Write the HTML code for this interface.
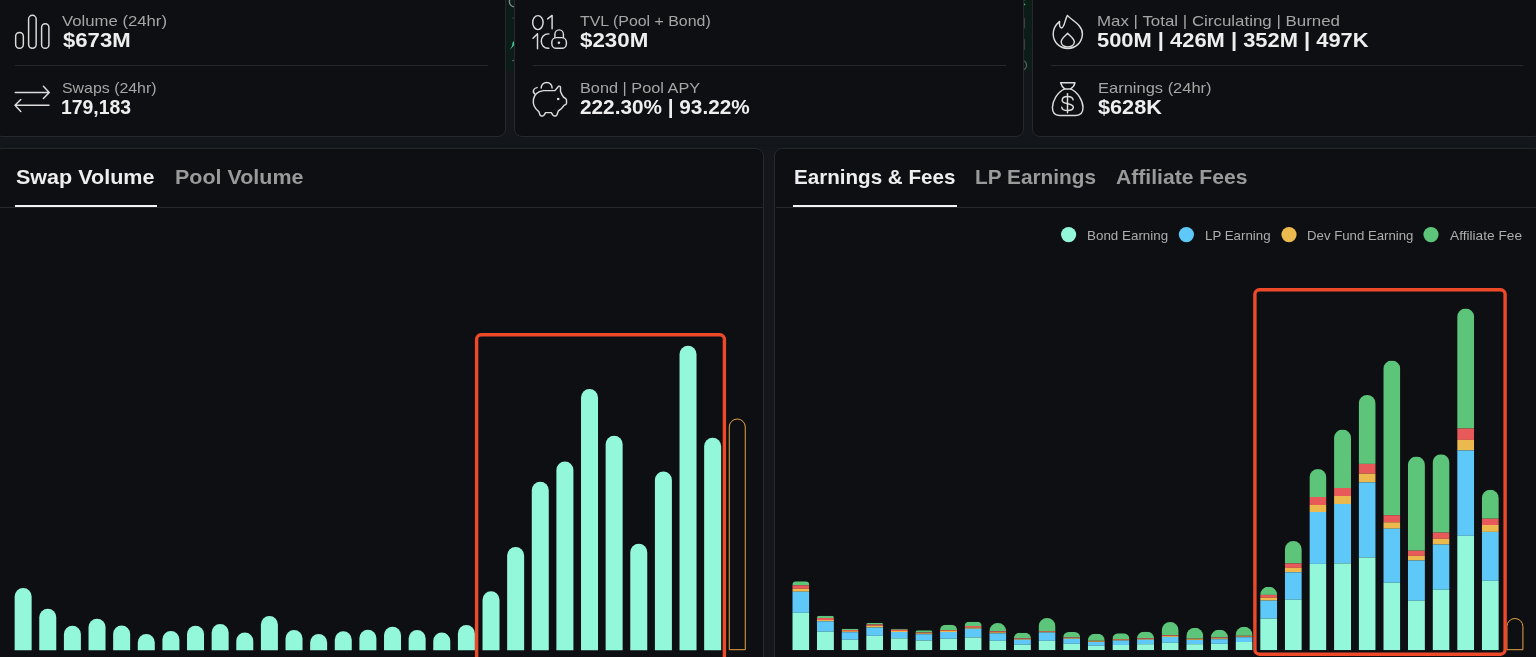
<!DOCTYPE html>
<html lang="en"><head><meta charset="utf-8"><title>Dashboard</title>
<style>
html,body{margin:0;padding:0}
body{width:1536px;height:657px;overflow:hidden;background:#13161a;position:relative;font-family:"Liberation Sans",sans-serif}
.strip{position:absolute;left:0;top:0;width:1536px;height:71px;background:#0c1c16}
.card{position:absolute;top:-20px;height:154.5px;background:#0e0f13;border:1px solid #25282d;border-radius:8px}
.div{position:absolute;height:1px;top:65px;background:#25282c}
.panel{position:absolute;top:148px;height:540px;background:#0e0f13;border:1px solid #25282d;border-radius:8px}
.tabline{position:absolute;top:207px;height:1px;background:#25282c}
.ul{position:absolute;top:204.6px;height:2.4px;background:#f2f2f2}
.t{position:absolute;white-space:nowrap;line-height:1;transform-origin:0 0}
.lab{font-size:14.5px;color:#a6a6a6}
.val{font-size:19.3px;font-weight:700;color:#eeeeee}
.tabA{font-size:20px;font-weight:700;color:#eeeeee}
.tab{font-size:20px;font-weight:700;color:#9a9a9a}
.leg{font-size:13px;color:#adadad}
svg{position:absolute;left:0;top:0}
</style></head><body>
<div class="strip"></div>
<svg width="1536" height="72" viewBox="0 0 1536 72">
<path d="M514.6 -3.5a5.2 5.2 0 0 0 0 10.4" fill="none" stroke="#8a8d90" stroke-width="1.3"/>
<path d="M509.8 49.8Q512.6 47.6 514.6 44.6V40.6L512.6 42.4Q513 46 509.8 49.8Z" fill="#4fc99a"/>
<rect x="512.4" y="17.6" width="2.2" height="1" fill="#4a4f52"/>
<rect x="512.2" y="60" width="2.4" height="1.2" fill="#5a5f62"/>
<rect x="1023.4" y="18" width="1.7" height="10.5" rx=".8" fill="#3b3e42"/>
<rect x="1023.4" y="39" width="1.7" height="11" rx=".8" fill="#3b3e42"/>
<circle cx="1021.6" cy="65.2" r="5" fill="none" stroke="#55585c" stroke-width="1.3"/>
<circle cx="1023.6" cy=".6" r=".8" fill="#3fae82"/>
<circle cx="1024.4" cy="4.4" r=".9" fill="#3fae82"/>
</svg>
<div class="card" style="left:-6px;width:510px"></div>
<div class="card" style="left:514px;width:508px"></div>
<div class="card" style="left:1032px;width:508px"></div>
<div class="div" style="left:15px;width:473px"></div>
<div class="div" style="left:533px;width:473px"></div>
<div class="div" style="left:1051px;width:472px"></div>
<div class="panel" style="left:-6px;width:767.5px"></div>
<div class="panel" style="left:774px;width:766px"></div>
<div style="position:absolute;left:4px;width:1532px;top:145px;height:0;border-top:1px dotted rgba(8,9,11,.3)"></div>
<div class="tabline" style="left:0;width:763px"></div>
<div class="tabline" style="left:775.6px;width:761px"></div>
<div class="ul" style="left:15px;width:142px"></div>
<div class="ul" style="left:792.5px;width:164.5px"></div>
<svg width="1536" height="657" viewBox="0 0 1536 657">
<path fill="#93f7da" d="M14.65 650.2V596.5a8.5 8.5 0 0 1 17 0V650.2z"/>
<path fill="#93f7da" d="M39.27 650.2V617.25a8.5 8.5 0 0 1 17 0V650.2z"/>
<path fill="#93f7da" d="M63.9 650.2V634.25a8.5 8.5 0 0 1 17 0V650.2z"/>
<path fill="#93f7da" d="M88.53 650.2V627.25a8.5 8.5 0 0 1 17 0V650.2z"/>
<path fill="#93f7da" d="M113.15 650.2V634a8.5 8.5 0 0 1 17 0V650.2z"/>
<path fill="#93f7da" d="M137.78 650.2V642.5a8.5 8.5 0 0 1 17 0V650.2z"/>
<path fill="#93f7da" d="M162.4 650.2V639.5a8.5 8.5 0 0 1 17 0V650.2z"/>
<path fill="#93f7da" d="M187.03 650.2V634.25a8.5 8.5 0 0 1 17 0V650.2z"/>
<path fill="#93f7da" d="M211.65 650.2V632.5a8.5 8.5 0 0 1 17 0V650.2z"/>
<path fill="#93f7da" d="M236.28 650.2V641a8.5 8.5 0 0 1 17 0V650.2z"/>
<path fill="#93f7da" d="M260.9 650.2V624.5a8.5 8.5 0 0 1 17 0V650.2z"/>
<path fill="#93f7da" d="M285.52 650.2V638.5a8.5 8.5 0 0 1 17 0V650.2z"/>
<path fill="#93f7da" d="M310.15 650.2V642.5a8.5 8.5 0 0 1 17 0V650.2z"/>
<path fill="#93f7da" d="M334.77 650.2V639.75a8.5 8.5 0 0 1 17 0V650.2z"/>
<path fill="#93f7da" d="M359.4 650.2V638.25a8.5 8.5 0 0 1 17 0V650.2z"/>
<path fill="#93f7da" d="M384.02 650.2V635.25a8.5 8.5 0 0 1 17 0V650.2z"/>
<path fill="#93f7da" d="M408.65 650.2V638.5a8.5 8.5 0 0 1 17 0V650.2z"/>
<path fill="#93f7da" d="M433.27 650.2V641a8.5 8.5 0 0 1 17 0V650.2z"/>
<path fill="#93f7da" d="M457.9 650.2V633.5a8.5 8.5 0 0 1 17 0V650.2z"/>
<path fill="#93f7da" d="M482.52 650.2V599.75a8.5 8.5 0 0 1 17 0V650.2z"/>
<path fill="#93f7da" d="M507.15 650.2V555.6a8.5 8.5 0 0 1 17 0V650.2z"/>
<path fill="#93f7da" d="M531.77 650.2V490.3a8.5 8.5 0 0 1 17 0V650.2z"/>
<path fill="#93f7da" d="M556.4 650.2V470a8.5 8.5 0 0 1 17 0V650.2z"/>
<path fill="#93f7da" d="M581.02 650.2V397.4a8.5 8.5 0 0 1 17 0V650.2z"/>
<path fill="#93f7da" d="M605.65 650.2V444.3a8.5 8.5 0 0 1 17 0V650.2z"/>
<path fill="#93f7da" d="M630.27 650.2V552.2a8.5 8.5 0 0 1 17 0V650.2z"/>
<path fill="#93f7da" d="M654.9 650.2V480.1a8.5 8.5 0 0 1 17 0V650.2z"/>
<path fill="#93f7da" d="M679.52 650.2V354.2a8.5 8.5 0 0 1 17 0V650.2z"/>
<path fill="#93f7da" d="M704.15 650.2V446.3a8.5 8.5 0 0 1 17 0V650.2z"/>
<path fill="none" stroke="#e6a444" stroke-width="1" d="M729.27 649.7V427a8 8 0 0 1 16 0V649.7z"/>
<rect x="476.6" y="334.8" width="247.8" height="340" rx="4.5" fill="none" stroke="#ee4a2a" stroke-width="3.4"/>
<clipPath id="c0"><path d="M792.3 650.2V585.3a4 4 0 0 1 4 -4H805.3a4 4 0 0 1 4 4V650.2z"/></clipPath>
<g clip-path="url(#c0)"><rect x="792.3" y="581.3" width="17" height="4" fill="#5cc57a"/><rect x="792.3" y="585.3" width="17" height="3.5" fill="#e85a5a"/><rect x="792.3" y="588.8" width="17" height="2.9" fill="#ecb94e"/><rect x="792.3" y="591.7" width="17" height="21.1" fill="#5ec8f8"/><rect x="792.3" y="612.8" width="17" height="37.4" fill="#93f7da"/></g>
<clipPath id="c1"><path d="M816.92 650.2V618a2.2 2.2 0 0 1 2.2 -2.2H831.72a2.2 2.2 0 0 1 2.2 2.2V650.2z"/></clipPath>
<g clip-path="url(#c1)"><rect x="816.92" y="615.8" width="17" height="2.2" fill="#5cc57a"/><rect x="816.92" y="618" width="17" height="2" fill="#e85a5a"/><rect x="816.92" y="620" width="17" height="1.3" fill="#ecb94e"/><rect x="816.92" y="621.3" width="17" height="10.4" fill="#5ec8f8"/><rect x="816.92" y="631.7" width="17" height="18.5" fill="#93f7da"/></g>
<clipPath id="c2"><path d="M841.55 650.2V630a1.2 1.2 0 0 1 1.2 -1.2H857.35a1.2 1.2 0 0 1 1.2 1.2V650.2z"/></clipPath>
<g clip-path="url(#c2)"><rect x="841.55" y="628.8" width="17" height="1.2" fill="#5cc57a"/><rect x="841.55" y="630" width="17" height="1.2" fill="#e85a5a"/><rect x="841.55" y="631.2" width="17" height="1" fill="#ecb94e"/><rect x="841.55" y="632.2" width="17" height="7.5" fill="#5ec8f8"/><rect x="841.55" y="639.7" width="17" height="10.5" fill="#93f7da"/></g>
<clipPath id="c3"><path d="M866.17 650.2V624.5a1.5 1.5 0 0 1 1.5 -1.5H881.67a1.5 1.5 0 0 1 1.5 1.5V650.2z"/></clipPath>
<g clip-path="url(#c3)"><rect x="866.17" y="623" width="17" height="1.5" fill="#5cc57a"/><rect x="866.17" y="624.5" width="17" height="1.3" fill="#e85a5a"/><rect x="866.17" y="625.8" width="17" height="1.7" fill="#ecb94e"/><rect x="866.17" y="627.5" width="17" height="8.3" fill="#5ec8f8"/><rect x="866.17" y="635.8" width="17" height="14.4" fill="#93f7da"/></g>
<clipPath id="c4"><path d="M890.8 650.2V629.7a0.9 0.9 0 0 1 0.9 -0.9H906.9a0.9 0.9 0 0 1 0.9 0.9V650.2z"/></clipPath>
<g clip-path="url(#c4)"><rect x="890.8" y="628.8" width="17" height="0.9" fill="#5cc57a"/><rect x="890.8" y="629.7" width="17" height="1.3" fill="#e85a5a"/><rect x="890.8" y="631" width="17" height="1" fill="#ecb94e"/><rect x="890.8" y="632" width="17" height="6.3" fill="#5ec8f8"/><rect x="890.8" y="638.3" width="17" height="11.9" fill="#93f7da"/></g>
<clipPath id="c5"><path d="M915.42 650.2V632.5a2.2 2.2 0 0 1 2.2 -2.2H930.22a2.2 2.2 0 0 1 2.2 2.2V650.2z"/></clipPath>
<g clip-path="url(#c5)"><rect x="915.42" y="630.3" width="17" height="2.2" fill="#5cc57a"/><rect x="915.42" y="632.5" width="17" height="0.8" fill="#e85a5a"/><rect x="915.42" y="633.3" width="17" height="0.9" fill="#ecb94e"/><rect x="915.42" y="634.2" width="17" height="6.3" fill="#5ec8f8"/><rect x="915.42" y="640.5" width="17" height="9.7" fill="#93f7da"/></g>
<clipPath id="c6"><path d="M940.05 650.2V630a5.3 5.3 0 0 1 5.3 -5.3H951.75a5.3 5.3 0 0 1 5.3 5.3V650.2z"/></clipPath>
<g clip-path="url(#c6)"><rect x="940.05" y="624.7" width="17" height="5.3" fill="#5cc57a"/><rect x="940.05" y="630" width="17" height="0.8" fill="#e85a5a"/><rect x="940.05" y="630.8" width="17" height="1.2" fill="#ecb94e"/><rect x="940.05" y="632" width="17" height="6.7" fill="#5ec8f8"/><rect x="940.05" y="638.7" width="17" height="11.5" fill="#93f7da"/></g>
<clipPath id="c7"><path d="M964.67 650.2V626a4.2 4.2 0 0 1 4.2 -4.2H977.47a4.2 4.2 0 0 1 4.2 4.2V650.2z"/></clipPath>
<g clip-path="url(#c7)"><rect x="964.67" y="621.8" width="17" height="4.2" fill="#5cc57a"/><rect x="964.67" y="626" width="17" height="1.5" fill="#e85a5a"/><rect x="964.67" y="627.5" width="17" height="1.2" fill="#ecb94e"/><rect x="964.67" y="628.7" width="17" height="8.8" fill="#5ec8f8"/><rect x="964.67" y="637.5" width="17" height="12.7" fill="#93f7da"/></g>
<clipPath id="c8"><path d="M989.3 650.2V631.3a8.3 8.3 0 0 1 8.3 -8.3H998a8.3 8.3 0 0 1 8.3 8.3V650.2z"/></clipPath>
<g clip-path="url(#c8)"><rect x="989.3" y="623" width="17" height="8.3" fill="#5cc57a"/><rect x="989.3" y="631.3" width="17" height="1" fill="#e85a5a"/><rect x="989.3" y="632.3" width="17" height="1" fill="#ecb94e"/><rect x="989.3" y="633.3" width="17" height="7.5" fill="#5ec8f8"/><rect x="989.3" y="640.8" width="17" height="9.4" fill="#93f7da"/></g>
<clipPath id="c9"><path d="M1013.92 650.2V638.3a5.5 5.5 0 0 1 5.5 -5.5H1025.42a5.5 5.5 0 0 1 5.5 5.5V650.2z"/></clipPath>
<g clip-path="url(#c9)"><rect x="1013.92" y="632.8" width="17" height="5.5" fill="#5cc57a"/><rect x="1013.92" y="638.3" width="17" height="0.7" fill="#e85a5a"/><rect x="1013.92" y="639" width="17" height="0.7" fill="#ecb94e"/><rect x="1013.92" y="639.7" width="17" height="5" fill="#5ec8f8"/><rect x="1013.92" y="644.7" width="17" height="5.5" fill="#93f7da"/></g>
<clipPath id="c10"><path d="M1038.55 650.2V626.5a8.5 8.5 0 0 1 8.5 -8.5H1047.05a8.5 8.5 0 0 1 8.5 8.5V650.2z"/></clipPath>
<g clip-path="url(#c10)"><rect x="1038.55" y="618" width="17" height="13" fill="#5cc57a"/><rect x="1038.55" y="631" width="17" height="0.7" fill="#e85a5a"/><rect x="1038.55" y="631.7" width="17" height="0.8" fill="#ecb94e"/><rect x="1038.55" y="632.5" width="17" height="8.3" fill="#5ec8f8"/><rect x="1038.55" y="640.8" width="17" height="9.4" fill="#93f7da"/></g>
<clipPath id="c11"><path d="M1063.17 650.2V637.5a5.5 5.5 0 0 1 5.5 -5.5H1074.67a5.5 5.5 0 0 1 5.5 5.5V650.2z"/></clipPath>
<g clip-path="url(#c11)"><rect x="1063.17" y="632" width="17" height="5.5" fill="#5cc57a"/><rect x="1063.17" y="637.5" width="17" height="0.6" fill="#e85a5a"/><rect x="1063.17" y="638.1" width="17" height="0.7" fill="#ecb94e"/><rect x="1063.17" y="638.8" width="17" height="5" fill="#5ec8f8"/><rect x="1063.17" y="643.8" width="17" height="6.4" fill="#93f7da"/></g>
<clipPath id="c12"><path d="M1087.8 650.2V640.8a7 7 0 0 1 7 -7H1097.8a7 7 0 0 1 7 7V650.2z"/></clipPath>
<g clip-path="url(#c12)"><rect x="1087.8" y="633.8" width="17" height="7" fill="#5cc57a"/><rect x="1087.8" y="640.8" width="17" height="0.6" fill="#e85a5a"/><rect x="1087.8" y="641.4" width="17" height="0.6" fill="#ecb94e"/><rect x="1087.8" y="642" width="17" height="3.8" fill="#5ec8f8"/><rect x="1087.8" y="645.8" width="17" height="4.4" fill="#93f7da"/></g>
<clipPath id="c13"><path d="M1112.42 650.2V639a5.7 5.7 0 0 1 5.7 -5.7H1123.72a5.7 5.7 0 0 1 5.7 5.7V650.2z"/></clipPath>
<g clip-path="url(#c13)"><rect x="1112.42" y="633.3" width="17" height="5.7" fill="#5cc57a"/><rect x="1112.42" y="639" width="17" height="0.7" fill="#e85a5a"/><rect x="1112.42" y="639.7" width="17" height="0.8" fill="#ecb94e"/><rect x="1112.42" y="640.5" width="17" height="4.5" fill="#5ec8f8"/><rect x="1112.42" y="645" width="17" height="5.2" fill="#93f7da"/></g>
<clipPath id="c14"><path d="M1137.05 650.2V638.3a6.6 6.6 0 0 1 6.6 -6.6H1147.45a6.6 6.6 0 0 1 6.6 6.6V650.2z"/></clipPath>
<g clip-path="url(#c14)"><rect x="1137.05" y="631.7" width="17" height="6.6" fill="#5cc57a"/><rect x="1137.05" y="638.3" width="17" height="0.7" fill="#e85a5a"/><rect x="1137.05" y="639" width="17" height="0.7" fill="#ecb94e"/><rect x="1137.05" y="639.7" width="17" height="4.5" fill="#5ec8f8"/><rect x="1137.05" y="644.2" width="17" height="6" fill="#93f7da"/></g>
<clipPath id="c15"><path d="M1161.67 650.2V630.5a8.5 8.5 0 0 1 8.5 -8.5H1170.17a8.5 8.5 0 0 1 8.5 8.5V650.2z"/></clipPath>
<g clip-path="url(#c15)"><rect x="1161.67" y="622" width="17" height="13.3" fill="#5cc57a"/><rect x="1161.67" y="635.3" width="17" height="0.8" fill="#e85a5a"/><rect x="1161.67" y="636.1" width="17" height="0.9" fill="#ecb94e"/><rect x="1161.67" y="637" width="17" height="5.8" fill="#5ec8f8"/><rect x="1161.67" y="642.8" width="17" height="7.4" fill="#93f7da"/></g>
<clipPath id="c16"><path d="M1186.3 650.2V636.3a8.5 8.5 0 0 1 8.5 -8.5H1194.8a8.5 8.5 0 0 1 8.5 8.5V650.2z"/></clipPath>
<g clip-path="url(#c16)"><rect x="1186.3" y="627.8" width="17" height="10.9" fill="#5cc57a"/><rect x="1186.3" y="638.7" width="17" height="0.6" fill="#e85a5a"/><rect x="1186.3" y="639.3" width="17" height="0.7" fill="#ecb94e"/><rect x="1186.3" y="640" width="17" height="4.2" fill="#5ec8f8"/><rect x="1186.3" y="644.2" width="17" height="6" fill="#93f7da"/></g>
<clipPath id="c17"><path d="M1210.92 650.2V637.5a7.8 7.8 0 0 1 7.8 -7.8H1220.12a7.8 7.8 0 0 1 7.8 7.8V650.2z"/></clipPath>
<g clip-path="url(#c17)"><rect x="1210.92" y="629.7" width="17" height="7.8" fill="#5cc57a"/><rect x="1210.92" y="637.5" width="17" height="0.8" fill="#e85a5a"/><rect x="1210.92" y="638.3" width="17" height="0.9" fill="#ecb94e"/><rect x="1210.92" y="639.2" width="17" height="4.6" fill="#5ec8f8"/><rect x="1210.92" y="643.8" width="17" height="6.4" fill="#93f7da"/></g>
<clipPath id="c18"><path d="M1235.55 650.2V635.2a8.5 8.5 0 0 1 8.5 -8.5H1244.05a8.5 8.5 0 0 1 8.5 8.5V650.2z"/></clipPath>
<g clip-path="url(#c18)"><rect x="1235.55" y="626.7" width="17" height="9.1" fill="#5cc57a"/><rect x="1235.55" y="635.8" width="17" height="0.7" fill="#e85a5a"/><rect x="1235.55" y="636.5" width="17" height="0.7" fill="#ecb94e"/><rect x="1235.55" y="637.2" width="17" height="4.8" fill="#5ec8f8"/><rect x="1235.55" y="642" width="17" height="8.2" fill="#93f7da"/></g>
<clipPath id="c19"><path d="M1260.17 650.2V594.9a8.1 8.1 0 0 1 8.1 -8.1H1269.07a8.1 8.1 0 0 1 8.1 8.1V650.2z"/></clipPath>
<g clip-path="url(#c19)"><rect x="1260.17" y="586.8" width="17" height="8.1" fill="#5cc57a"/><rect x="1260.17" y="594.9" width="17" height="2.9" fill="#e85a5a"/><rect x="1260.17" y="597.8" width="17" height="2.8" fill="#ecb94e"/><rect x="1260.17" y="600.6" width="17" height="18" fill="#5ec8f8"/><rect x="1260.17" y="618.6" width="17" height="31.6" fill="#93f7da"/></g>
<clipPath id="c20"><path d="M1284.8 650.2V549.5a8.5 8.5 0 0 1 8.5 -8.5H1293.3a8.5 8.5 0 0 1 8.5 8.5V650.2z"/></clipPath>
<g clip-path="url(#c20)"><rect x="1284.8" y="541" width="17" height="22.4" fill="#5cc57a"/><rect x="1284.8" y="563.4" width="17" height="4.5" fill="#e85a5a"/><rect x="1284.8" y="567.9" width="17" height="4.4" fill="#ecb94e"/><rect x="1284.8" y="572.3" width="17" height="27.4" fill="#5ec8f8"/><rect x="1284.8" y="599.7" width="17" height="50.5" fill="#93f7da"/></g>
<clipPath id="c21"><path d="M1309.42 650.2V477.6a8.5 8.5 0 0 1 8.5 -8.5H1317.92a8.5 8.5 0 0 1 8.5 8.5V650.2z"/></clipPath>
<g clip-path="url(#c21)"><rect x="1309.42" y="469.1" width="17" height="27.9" fill="#5cc57a"/><rect x="1309.42" y="497" width="17" height="8" fill="#e85a5a"/><rect x="1309.42" y="505" width="17" height="7" fill="#ecb94e"/><rect x="1309.42" y="512" width="17" height="51.9" fill="#5ec8f8"/><rect x="1309.42" y="563.9" width="17" height="86.3" fill="#93f7da"/></g>
<clipPath id="c22"><path d="M1334.05 650.2V438.1a8.5 8.5 0 0 1 8.5 -8.5H1342.55a8.5 8.5 0 0 1 8.5 8.5V650.2z"/></clipPath>
<g clip-path="url(#c22)"><rect x="1334.05" y="429.6" width="17" height="58.4" fill="#5cc57a"/><rect x="1334.05" y="488" width="17" height="8" fill="#e85a5a"/><rect x="1334.05" y="496" width="17" height="8" fill="#ecb94e"/><rect x="1334.05" y="504" width="17" height="59.4" fill="#5ec8f8"/><rect x="1334.05" y="563.4" width="17" height="86.8" fill="#93f7da"/></g>
<clipPath id="c23"><path d="M1358.67 650.2V403.4a8.5 8.5 0 0 1 8.5 -8.5H1367.17a8.5 8.5 0 0 1 8.5 8.5V650.2z"/></clipPath>
<g clip-path="url(#c23)"><rect x="1358.67" y="394.9" width="17" height="69" fill="#5cc57a"/><rect x="1358.67" y="463.9" width="17" height="9.8" fill="#e85a5a"/><rect x="1358.67" y="473.7" width="17" height="8.7" fill="#ecb94e"/><rect x="1358.67" y="482.4" width="17" height="75.1" fill="#5ec8f8"/><rect x="1358.67" y="557.5" width="17" height="92.7" fill="#93f7da"/></g>
<clipPath id="c24"><path d="M1383.3 650.2V369.1a8.5 8.5 0 0 1 8.5 -8.5H1391.8a8.5 8.5 0 0 1 8.5 8.5V650.2z"/></clipPath>
<g clip-path="url(#c24)"><rect x="1383.3" y="360.6" width="17" height="154.6" fill="#5cc57a"/><rect x="1383.3" y="515.2" width="17" height="7.1" fill="#e85a5a"/><rect x="1383.3" y="522.3" width="17" height="6.4" fill="#ecb94e"/><rect x="1383.3" y="528.7" width="17" height="54" fill="#5ec8f8"/><rect x="1383.3" y="582.7" width="17" height="67.5" fill="#93f7da"/></g>
<clipPath id="c25"><path d="M1407.92 650.2V465a8.5 8.5 0 0 1 8.5 -8.5H1416.42a8.5 8.5 0 0 1 8.5 8.5V650.2z"/></clipPath>
<g clip-path="url(#c25)"><rect x="1407.92" y="456.5" width="17" height="94.2" fill="#5cc57a"/><rect x="1407.92" y="550.7" width="17" height="5.2" fill="#e85a5a"/><rect x="1407.92" y="555.9" width="17" height="4.6" fill="#ecb94e"/><rect x="1407.92" y="560.5" width="17" height="40.2" fill="#5ec8f8"/><rect x="1407.92" y="600.7" width="17" height="49.5" fill="#93f7da"/></g>
<clipPath id="c26"><path d="M1432.55 650.2V462.8a8.5 8.5 0 0 1 8.5 -8.5H1441.05a8.5 8.5 0 0 1 8.5 8.5V650.2z"/></clipPath>
<g clip-path="url(#c26)"><rect x="1432.55" y="454.3" width="17" height="78.3" fill="#5cc57a"/><rect x="1432.55" y="532.6" width="17" height="6.2" fill="#e85a5a"/><rect x="1432.55" y="538.8" width="17" height="5.7" fill="#ecb94e"/><rect x="1432.55" y="544.5" width="17" height="45.2" fill="#5ec8f8"/><rect x="1432.55" y="589.7" width="17" height="60.5" fill="#93f7da"/></g>
<clipPath id="c27"><path d="M1457.17 650.2V317a8.5 8.5 0 0 1 8.5 -8.5H1465.67a8.5 8.5 0 0 1 8.5 8.5V650.2z"/></clipPath>
<g clip-path="url(#c27)"><rect x="1457.17" y="308.5" width="17" height="120" fill="#5cc57a"/><rect x="1457.17" y="428.5" width="17" height="11.4" fill="#e85a5a"/><rect x="1457.17" y="439.9" width="17" height="10.5" fill="#ecb94e"/><rect x="1457.17" y="450.4" width="17" height="85.4" fill="#5ec8f8"/><rect x="1457.17" y="535.8" width="17" height="114.4" fill="#93f7da"/></g>
<clipPath id="c28"><path d="M1481.8 650.2V498.2a8.5 8.5 0 0 1 8.5 -8.5H1490.3a8.5 8.5 0 0 1 8.5 8.5V650.2z"/></clipPath>
<g clip-path="url(#c28)"><rect x="1481.8" y="489.7" width="17" height="29" fill="#5cc57a"/><rect x="1481.8" y="518.7" width="17" height="6.3" fill="#e85a5a"/><rect x="1481.8" y="525" width="17" height="6.9" fill="#ecb94e"/><rect x="1481.8" y="531.9" width="17" height="48.9" fill="#5ec8f8"/><rect x="1481.8" y="580.8" width="17" height="69.4" fill="#93f7da"/></g>
<path fill="none" stroke="#e6a444" stroke-width="1" d="M1506.92 649.7V626.5a8 8 0 0 1 16 0V649.7z"/>
<rect x="1254.9" y="289.8" width="250.2" height="364.4" rx="4.5" fill="none" stroke="#ee4a2a" stroke-width="3.4"/>
<circle cx="1068.6" cy="234.6" r="7.6" fill="#93f7da"/>
<circle cx="1186.4" cy="234.6" r="7.6" fill="#5ec8f8"/>
<circle cx="1289" cy="234.6" r="7.6" fill="#ecb94e"/>
<circle cx="1431" cy="234.6" r="7.6" fill="#5cc57a"/>

<g fill="none" stroke="#dcdcdc" stroke-width="1.45" stroke-linecap="round" stroke-linejoin="round">
<!-- volume -->
<rect x="15.65" y="32.4" width="7.7" height="15.9" rx="3.85"/>
<rect x="28.6" y="15.3" width="7.55" height="33" rx="3.77"/>
<rect x="41.6" y="23.8" width="7.3" height="24.5" rx="3.65"/>
<!-- swaps -->
<path d="M15.2 92.4H49M43.4 86.3L49.2 92.4L43.4 98.5"/>
<path d="M49 105.2H15.2M20.8 99.4L15 105.2L20.8 111.4"/>
<!-- tvl 01 1C lock -->
<ellipse cx="537.9" cy="22.6" rx="5.2" ry="7"/>
<path d="M547.6 18.9L552.1 15.4V28.8"/>
<path d="M533 38.2L537.5 33.8V48.8"/>
<path d="M548.8 33.9C538.8 33.4 538.8 48.9 548.8 48.3"/>
<rect x="551.8" y="37.6" width="14.6" height="10.7" rx="4.6"/>
<path d="M554.9 37.6V34.3a4.25 4.4 0 0 1 8.5 0V37.6"/>
<!-- piggy -->
<path d="M541.2 87.9a5.45 5.45 0 0 1 10.9 0"/>
<path d="M537.1 87.6C533.6 87.9 531.9 91.8 535.1 94.3"/>
<path d="M554.9 90.6L558.6 86.3Q560.4 85.6 560.5 87.5V91.5Q561.8 95 563.6 97.2L565.7 98.7Q566.5 99.2 566.5 100.2V103.2Q566.5 104.2 565.5 104.6L564 105.3Q561.5 109.3 558.3 111L557 114.8Q556.6 115.9 555.5 115.9H554.3Q553.3 115.9 552.8 115L551.3 112.6H545.6L544.1 115Q543.6 115.9 542.6 115.9H541.4Q540.3 115.9 539.9 114.8L538.8 111.6C530.5 105.5 531.2 92.4 543.5 90.6Z"/>
<!-- fire -->
<path d="M1067.4 15.4C1071 20 1082.6 24.5 1082.4 34C1082.2 42.5 1075.5 48.4 1067.8 48.4C1060 48.4 1053.3 42.5 1053.2 34C1053.1 28.5 1056 24.5 1059.6 21.4C1059 25 1060 28 1061.6 28C1064.6 27.5 1064.5 20.5 1067.4 15.4Z"/>
<path d="M1067.6 33.3C1070 36 1074.3 38.5 1074.3 42.1C1074.3 45 1071.3 46.9 1067.8 46.9C1064.3 46.9 1061.2 45 1061.2 41.8C1061.2 38.5 1065.2 36 1067.6 33.3Z"/>
<!-- money bag -->
<path d="M1060.6 82.7H1075Q1074.3 86.6 1070.6 88.9H1064.7Q1061.6 86.3 1060.6 82.7Z"/>
<path d="M1064.7 88.9C1057.5 92 1052.4 101 1052.4 107.6C1052.4 112.6 1054.8 115.4 1059.5 115.4H1075.8C1080.6 115.4 1083 112.6 1083 107.6C1083 101 1077.8 92 1070.6 88.9"/>
<path d="M1067.5 93.6V112.8"/>
<path d="M1073.1 99.8C1072.8 97.7 1070.6 96.5 1067.5 96.5C1064.3 96.5 1062.2 98 1062.2 100.2C1062.2 105.2 1073.3 102.4 1073.3 107.3C1073.3 109.5 1070.8 110.5 1067.5 110.5C1064.3 110.5 1062.1 109.4 1061.8 107.3"/>
</g>
<circle cx="558.9" cy="42.8" r="1.25" fill="#dcdcdc"/>
<circle cx="558.2" cy="99" r="1.3" fill="#dcdcdc"/>

</svg>
<span class="t lab" id="t0" style="left:62.25px;top:13.2px;font-size:15px;transform:scaleX(1.1145)">Volume (24hr)</span>
<span class="t val" id="t1" style="left:62.7px;top:30.69px;font-size:19.5px;transform:scaleX(1.134)">$673M</span>
<span class="t lab" id="t2" style="left:61.9px;top:80.4px;font-size:15px;transform:scaleX(1.0599)">Swaps (24hr)</span>
<span class="t val" id="t3" style="left:61.26px;top:97.79px;font-size:19.5px;transform:scaleX(0.9929)">179,183</span>
<span class="t lab" id="t4" style="left:580.1px;top:13.2px;font-size:15px;transform:scaleX(1.0604)">TVL (Pool + Bond)</span>
<span class="t val" id="t5" style="left:580.1px;top:30.69px;font-size:19.5px;transform:scaleX(1.1459)">$230M</span>
<span class="t lab" id="t6" style="left:579.66px;top:80.4px;font-size:15px;transform:scaleX(1.0863)">Bond | Pool APY</span>
<span class="t val" id="t7" style="left:580.1px;top:97.79px;font-size:19.5px;transform:scaleX(1.0649)">222.30% | 93.22%</span>
<span class="t lab" id="t8" style="left:1097.07px;top:13.2px;font-size:15px;transform:scaleX(1.1267)">Max | Total | Circulating | Burned</span>
<span class="t val" id="t9" style="left:1097px;top:30.69px;font-size:19.5px;transform:scaleX(1.1229)">500M | 426M | 352M | 497K</span>
<span class="t lab" id="t10" style="left:1097.5px;top:80.4px;font-size:15px;transform:scaleX(1.0988)">Earnings (24hr)</span>
<span class="t val" id="t11" style="left:1098px;top:97.79px;font-size:19.5px;transform:scaleX(1.111)">$628K</span>
<span class="t tabA" id="t12" style="left:15.5px;top:166.9px;font-size:20.5px;transform:scaleX(1.0506)">Swap Volume</span>
<span class="t tab" id="t13" style="left:174.95px;top:166.9px;font-size:20.5px;transform:scaleX(1.0476)">Pool Volume</span>
<span class="t tabA" id="t14" style="left:794px;top:166.9px;font-size:20.5px;transform:scaleX(1.0048)">Earnings &amp; Fees</span>
<span class="t tab" id="t15" style="left:974.98px;top:166.9px;font-size:20.5px;transform:scaleX(1.0152)">LP Earnings</span>
<span class="t tab" id="t16" style="left:1116.4px;top:166.9px;font-size:20.5px;transform:scaleX(1.0299)">Affiliate Fees</span>
<span class="t leg" id="t17" style="left:1087.01px;top:228.52px;font-size:13.5px;transform:scaleX(0.9925)">Bond Earning</span>
<span class="t leg" id="t18" style="left:1204.72px;top:228.52px;font-size:13.5px;transform:scaleX(0.9849)">LP Earning</span>
<span class="t leg" id="t19" style="left:1307.02px;top:228.52px;font-size:13.5px;transform:scaleX(0.9785)">Dev Fund Earning</span>
<span class="t leg" id="t20" style="left:1450px;top:228.52px;font-size:13.5px;transform:scaleX(1.0137)">Affiliate Fee</span>
</body></html>
